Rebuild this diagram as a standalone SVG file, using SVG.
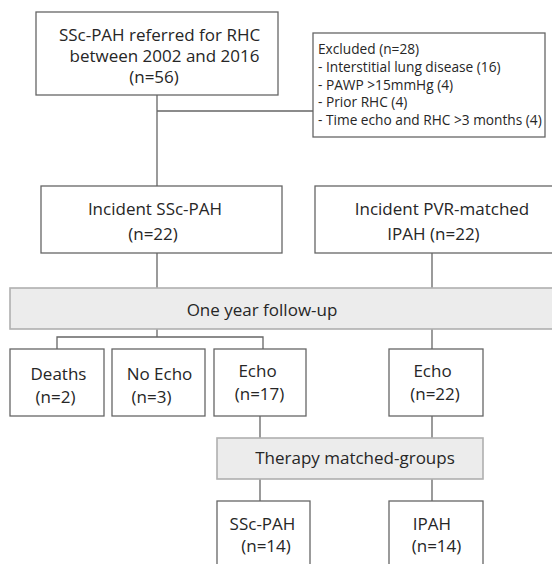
<svg xmlns="http://www.w3.org/2000/svg" width="552" height="564" viewBox="0 0 552 564">
<style>
.box{fill:#fff;stroke:#666;stroke-width:1.3}
.bar{fill:#ececec;stroke:#b0b0b0;stroke-width:1.6}
.t{font-family:"Open Sans","Noto Sans","Liberation Sans",sans-serif;font-size:17px;fill:#262626;text-anchor:middle}
.s{font-family:"Open Sans","Noto Sans","Liberation Sans",sans-serif;font-size:13.7px;fill:#262626}
.c{fill:none;stroke:#666;stroke-width:1.3}
</style>
<rect width="552" height="564" fill="#fff"/>
<g id="connectors">
<path class="c" d="M157,95 V186 M157,111 H313"/>
<path class="c" d="M157,253 V288 M432,253 V288"/>
<path class="c" d="M157,329 V337 M57,349 V337 H263 V349"/>
<path class="c" d="M432,329 V349"/>
<path class="c" d="M260,416 V438 M432,416 V438"/>
<path class="c" d="M260,479 V501 M432,479 V501"/>
</g>
<g id="referred">
<rect class="box" x="36" y="12" width="242" height="83"/>
<text class="t" x="159.5" y="41">SSc-PAH referred for RHC</text>
<text class="t" x="164.5" y="62">between 2002 and 2016</text>
<text class="t" x="154" y="83">(n=56)</text>
</g>
<g id="excluded">
<rect class="box" x="313" y="33" width="232" height="104"/>
<text class="s" x="318" y="54">Excluded (n=28)</text>
<text class="s" x="318" y="72">- Interstitial lung disease (16)</text>
<text class="s" x="318" y="89.5">- PAWP &gt;15mmHg (4)</text>
<text class="s" x="318" y="107">- Prior RHC (4)</text>
<text class="s" x="318" y="125">- Time echo and RHC &gt;3 months (4)</text>
</g>
<g id="incident-ssc">
<rect class="box" x="41" y="186" width="241" height="67"/>
<text class="t" x="155" y="215">Incident SSc-PAH</text>
<text class="t" x="153" y="240">(n=22)</text>
</g>
<g id="incident-ipah">
<rect class="box" x="315" y="186" width="240" height="67"/>
<text class="t" x="442" y="215">Incident PVR-matched</text>
<text class="t" x="433.5" y="240">IPAH (n=22)</text>
</g>
<g id="followup">
<rect class="bar" x="10" y="288" width="545" height="41"/>
<text class="t" x="262" y="316">One year follow-up</text>
</g>
<g id="deaths">
<rect class="box" x="10" y="349" width="94" height="67"/>
<text class="t" x="58.5" y="380">Deaths</text>
<text class="t" x="55.5" y="403">(n=2)</text>
</g>
<g id="noecho">
<rect class="box" x="112" y="349" width="93" height="67"/>
<text class="t" x="159.5" y="380">No Echo</text>
<text class="t" x="151.5" y="403">(n=3)</text>
</g>
<g id="echo-ssc">
<rect class="box" x="214" y="349" width="92" height="67"/>
<text class="t" x="257.5" y="377">Echo</text>
<text class="t" x="259.5" y="400">(n=17)</text>
</g>
<g id="echo-ipah">
<rect class="box" x="389" y="349" width="94" height="67"/>
<text class="t" x="432.5" y="377">Echo</text>
<text class="t" x="435" y="400">(n=22)</text>
</g>
<g id="therapy">
<rect class="bar" x="217" y="438" width="266" height="41"/>
<text class="t" x="355" y="464">Therapy matched-groups</text>
</g>
<g id="ssc-final">
<rect class="box" x="217" y="501" width="93" height="80"/>
<text class="t" x="262.5" y="530">SSc-PAH</text>
<text class="t" x="266" y="552">(n=14)</text>
</g>
<g id="ipah-final">
<rect class="box" x="389" y="501" width="94" height="80"/>
<text class="t" x="432" y="530">IPAH</text>
<text class="t" x="436.5" y="552">(n=14)</text>
</g>
</svg>
